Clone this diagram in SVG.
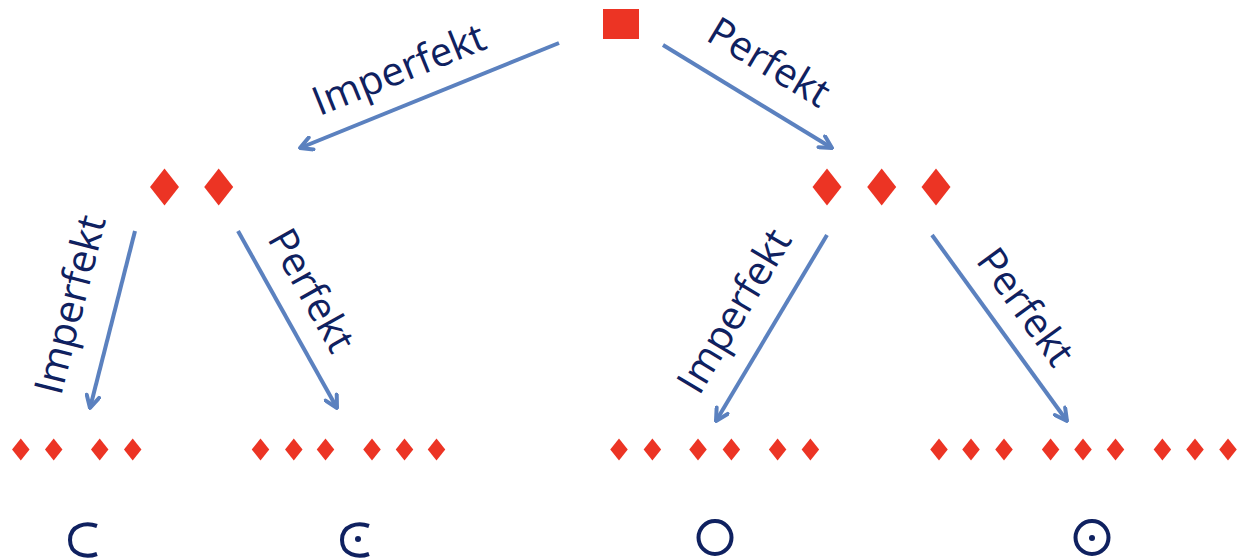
<svg xmlns="http://www.w3.org/2000/svg" width="1237" height="559" viewBox="0 0 1237 559">
<style>
.red{fill:#EC3424}
.arr{stroke:#5B81BF;stroke-width:4;fill:none;marker-end:url(#ah)}
.lbl{font-family:"Open Sans","Noto Sans",sans-serif;font-size:40px;fill:#0F2160;text-anchor:middle}
.sym{stroke:#0F2160;stroke-width:4;fill:none}
.dot{fill:#0F2160}
</style>
<defs>
<marker id="ah" viewBox="0 0 10 10" refX="9" refY="5" markerWidth="4" markerHeight="4" orient="auto" markerUnits="strokeWidth">
<path d="M1.5,1 L9,5 L1.5,9" fill="none" stroke="#5B81BF" stroke-width="2.5" stroke-linecap="round" stroke-linejoin="round"/>
</marker>
<path id="dL" d="M0,-18.5 L14.5,0 L0,18.5 L-14.5,0Z"/>
<path id="dS" d="M0,-11 L8.75,0 L0,11 L-8.75,0Z"/>
</defs>
<rect width="1237" height="559" fill="#fff"/>

<g id="connectors">
<line class="arr" x1="559" y1="43" x2="300" y2="148"/>
<line class="arr" x1="663" y1="45" x2="832" y2="148"/>
<line class="arr" x1="135" y1="231" x2="90" y2="408"/>
<line class="arr" x1="238" y1="231" x2="337" y2="408"/>
<line class="arr" x1="827" y1="235" x2="716" y2="421"/>
<line class="arr" x1="932" y1="235" x2="1067" y2="421"/>
<text class="lbl" transform="translate(404,82) rotate(-22)">Imperfekt</text>
<text class="lbl" transform="translate(762,74) rotate(31)">Perfekt</text>
<text class="lbl" transform="translate(83.5,308) rotate(-75.7)">Imperfekt</text>
<text class="lbl" transform="translate(299.5,297) rotate(60.8)">Perfekt</text>
<text class="lbl" transform="translate(746,318) rotate(-59.2)">Imperfekt</text>
<text class="lbl" transform="translate(1014.5,315) rotate(54)">Perfekt</text>
</g>

<g id="root"><rect class="red" x="603" y="9" width="36" height="30"/></g>

<g id="n-imperfekt" class="red">
<use href="#dL" x="164.5" y="187"/>
<use href="#dL" x="218.7" y="187"/>
</g>
<g id="n-perfekt" class="red">
<use href="#dL" x="827" y="187"/>
<use href="#dL" x="881.7" y="187"/>
<use href="#dL" x="936" y="187"/>
</g>

<g id="n-imp-imp" class="red">
<use href="#dS" x="20.8" y="449.5"/>
<use href="#dS" x="53.7" y="449.5"/>
<use href="#dS" x="99.7" y="449.5"/>
<use href="#dS" x="132.7" y="449.5"/>
</g>
<g id="n-imp-perf" class="red">
<use href="#dS" x="260.5" y="449.5"/>
<use href="#dS" x="293.8" y="449.5"/>
<use href="#dS" x="325.5" y="449.5"/>
<use href="#dS" x="372" y="449.5"/>
<use href="#dS" x="404.5" y="449.5"/>
<use href="#dS" x="436.5" y="449.5"/>
</g>
<g id="n-perf-imp" class="red">
<use href="#dS" x="619" y="449.5"/>
<use href="#dS" x="652.4" y="449.5"/>
<use href="#dS" x="698" y="449.5"/>
<use href="#dS" x="731.4" y="449.5"/>
<use href="#dS" x="777.6" y="449.5"/>
<use href="#dS" x="810.4" y="449.5"/>
</g>
<g id="n-perf-perf" class="red">
<use href="#dS" x="939" y="449.5"/>
<use href="#dS" x="971" y="449.5"/>
<use href="#dS" x="1004" y="449.5"/>
<use href="#dS" x="1050.6" y="449.5"/>
<use href="#dS" x="1083" y="449.5"/>
<use href="#dS" x="1115.5" y="449.5"/>
<use href="#dS" x="1162.4" y="449.5"/>
<use href="#dS" x="1195" y="449.5"/>
<use href="#dS" x="1228" y="449.5"/>
</g>

<g id="sym-1"><path class="sym" d="M97,526 C86,522 70,525 70,540 C70,555 86,558 97,554"/></g>
<g id="sym-2"><path class="sym" d="M369,526 C358,522 342,525 342,540 C342,555 358,558 369,554"/><circle class="dot" cx="358" cy="539" r="3"/></g>
<g id="sym-3"><circle class="sym" cx="715" cy="537.5" r="16.5"/></g>
<g id="sym-4"><circle class="sym" cx="1092" cy="537.5" r="16.5"/><circle class="dot" cx="1092" cy="538" r="3"/></g>
</svg>
